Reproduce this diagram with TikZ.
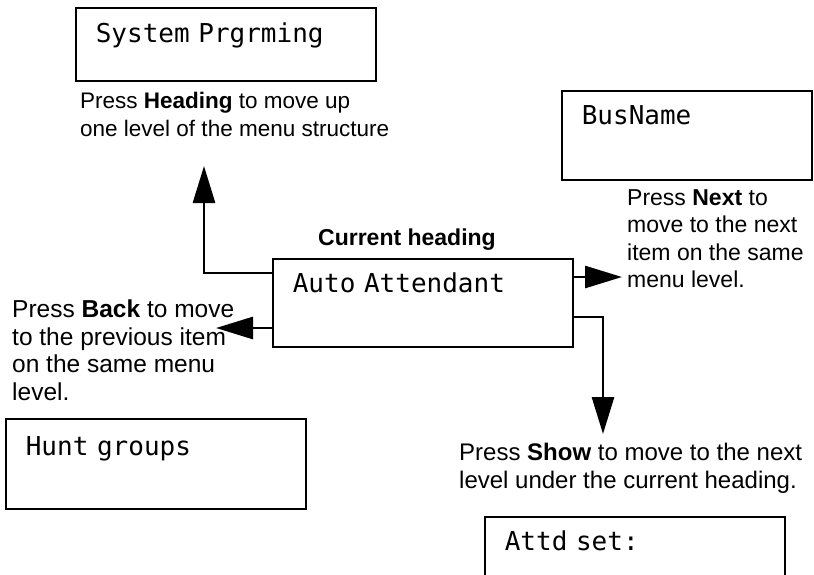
\documentclass[tikz,border=0pt]{standalone}
\usepackage{fontspec}
\setmainfont{Liberation Sans}
\newfontfamily\lcdfont{DejaVu Sans Mono}
\usetikzlibrary{arrows.meta}

\begin{document}
\begin{tikzpicture}[x=1pt, y=-1pt,
   lcd/.style={draw, line width=1.6pt, anchor=north west, align=left,
     inner xsep=20pt, inner ysep=0pt, text width=260pt,
     text height=34pt, text depth=54pt,
     font=\lcdfont\fontsize{26}{30}\selectfont},
   hint/.style={anchor=north west, align=left, inner sep=0pt,
     font=\fontsize{#1}{27.5}\selectfont},
   hint/.default=23,
   arr/.style={line width=2.8pt, -{Triangle[length=37pt,width=22pt]}}]

\clip (0,0) rectangle (814,574);

% display boxes
\node[lcd, text height=35pt, text depth=38pt] (sysprog) at (75,7) {System Prgrming};
\node[lcd, text width=210pt, text depth=55pt] (busname) at (561,90) {BusName};
\node[lcd] (auto) at (272,258) {Auto Attendant};
\node[lcd, text height=37pt, text depth=53pt] (hunt) at (5,418) {Hunt groups};
\node[lcd] (attd) at (484,516) {Attd set:};

% key hints
\node[hint=22.5] (headhint) at (80,92) {Press \textbf{Heading} to move up\\one level of the menu structure};
\node[hint] (nexthint) at (627,189) {Press \textbf{Next} to\\move to the next\\item on the same\\menu level.};
\node[hint=24.5] (backhint) at (12,300) {Press \textbf{Back} to move\\to the previous item\\on the same menu\\level.};
\node[hint=24] (showhint) at (459,443) {Press \textbf{Show} to move to the next\\level under the current heading.};
\node[anchor=base, inner sep=0pt, font=\fontsize{23}{27.5}\selectfont\bfseries] (current) at (407,245) {Current heading};

% connectors
\coordinate (uptip) at (204,166);
\coordinate (nexttip) at (622,277);
\coordinate (backtip) at (216,328);
\coordinate (showtip) at (603,434);

\draw[arr] ([yshift=-15pt]auto.north west) -| (uptip);
\draw[arr] ([yshift=-19pt]auto.north east) -- (nexttip);
\draw[arr] ([yshift=-70pt]auto.north west) -- (backtip);
\draw[arr] ([yshift=-59pt]auto.north east) -| (showtip);

\end{tikzpicture}
\end{document}
